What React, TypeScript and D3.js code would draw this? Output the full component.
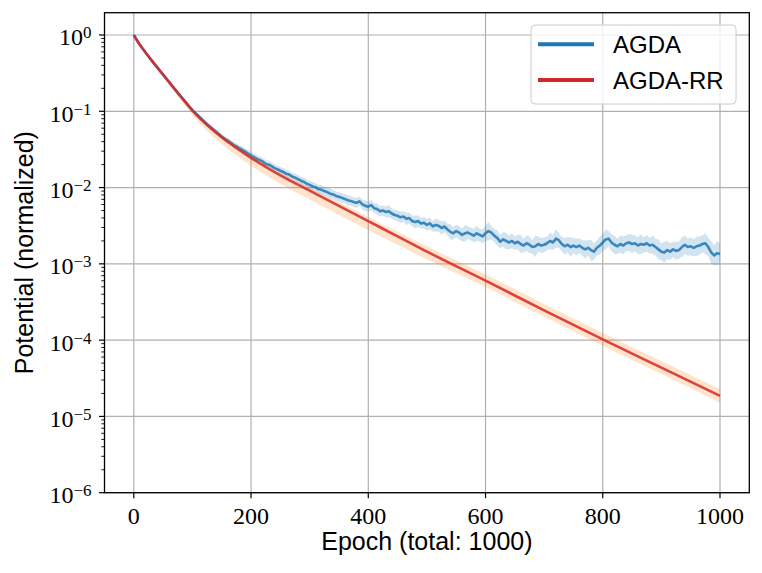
import React, { useEffect, useRef } from 'react';
import * as d3 from 'd3';

// series names and colours (legend order)
const seriesNames = ['AGDA', 'AGDA-RR'];
const seriesColors = ['#1f77b4', '#d62728'];
const bandColors = ['#1f77b4', '#ff7f0e'];

const xTicks = [0, 200, 400, 600, 800, 1000];
const yExponents = [0, -1, -2, -3, -4, -5, -6];

// AGDA-RR: log10 of normalized potential, smooth
const redEpochs = [0, 5, 10, 20, 30, 50, 75, 100, 125, 150, 175, 200, 250, 300, 350, 400, 450, 500, 600, 700, 800, 900, 1000];
const redLog = [0, -0.065, -0.125, -0.23, -0.33, -0.52, -0.76, -0.99, -1.18, -1.34, -1.48, -1.61, -1.84, -2.04, -2.24, -2.44, -2.64, -2.84, -3.22, -3.61, -3.99, -4.36, -4.73];
const redUp = [0, 0.002, 0.004, 0.006, 0.008, 0.01, 0.015, 0.02, 0.025, 0.03, 0.03, 0.035, 0.04, 0.045, 0.05, 0.055, 0.06, 0.07, 0.08, 0.085, 0.085, 0.085, 0.09];
const redDown = [0, 0.003, 0.006, 0.01, 0.015, 0.025, 0.04, 0.06, 0.075, 0.09, 0.1, 0.105, 0.11, 0.115, 0.115, 0.115, 0.11, 0.1, 0.085, 0.085, 0.085, 0.085, 0.09];

// AGDA: log10 of normalized potential, noisy after ~150 epochs
const blueEpochs = [0, 5, 10, 20, 30, 50, 75, 100, 125, ...d3.range(150, 1001, 5)];
const blueLog = [
  0, -0.065, -0.125, -0.23, -0.33, -0.52, -0.755, -0.985, -1.17,
  -1.33, -1.36, -1.385, -1.41, -1.44, -1.46, -1.485, -1.505, -1.53, -1.555,
  -1.58, -1.6, -1.625, -1.64, -1.66, -1.69, -1.7, -1.72, -1.745, -1.76,
  -1.78, -1.795, -1.82, -1.83, -1.855, -1.87, -1.89, -1.91, -1.925, -1.95,
  -1.965, -1.985, -1.995, -2.02, -2.03, -2.045, -2.06, -2.08, -2.09, -2.11,
  -2.12, -2.135, -2.15, -2.165, -2.175, -2.19, -2.2, -2.18, -2.22, -2.24,
  -2.25, -2.23, -2.27, -2.28, -2.31, -2.3, -2.32, -2.31, -2.34, -2.36,
  -2.37, -2.39, -2.38, -2.41, -2.4, -2.44, -2.45, -2.44, -2.47, -2.46,
  -2.49, -2.47, -2.51, -2.49, -2.5, -2.53, -2.51, -2.55, -2.58, -2.6,
  -2.57, -2.59, -2.62, -2.6, -2.59, -2.61, -2.63, -2.6, -2.62, -2.64,
  -2.6, -2.57, -2.59, -2.63, -2.66, -2.71, -2.68, -2.7, -2.72, -2.7,
  -2.73, -2.71, -2.74, -2.76, -2.73, -2.75, -2.78, -2.77, -2.74, -2.76,
  -2.75, -2.73, -2.7, -2.72, -2.67, -2.69, -2.74, -2.77, -2.75, -2.78,
  -2.76, -2.78, -2.76, -2.79, -2.81, -2.79, -2.82, -2.84, -2.79, -2.76,
  -2.72, -2.68, -2.67, -2.72, -2.75, -2.77, -2.74, -2.76, -2.73, -2.72,
  -2.74, -2.73, -2.76, -2.74, -2.75, -2.73, -2.76, -2.75, -2.78, -2.81,
  -2.84, -2.85, -2.82, -2.84, -2.81, -2.83, -2.82, -2.78, -2.75, -2.78,
  -2.77, -2.79, -2.77, -2.76, -2.74, -2.73, -2.78, -2.85, -2.89, -2.86,
  -2.87,
];
const blueSpread = [
  0, 0.002, 0.004, 0.006, 0.008, 0.012, 0.018, 0.025, 0.03,
  0.035, 0.035, 0.04, 0.038, 0.04, 0.042, 0.04, 0.045, 0.042, 0.045,
  0.045, 0.048, 0.045, 0.05, 0.047, 0.05, 0.048, 0.052, 0.05, 0.048,
  0.05, 0.052, 0.05, 0.055, 0.05, 0.053, 0.055, 0.05, 0.056, 0.052,
  0.055, 0.06, 0.055, 0.058, 0.062, 0.055, 0.06, 0.065, 0.058, 0.06,
  0.06, 0.065, 0.058, 0.07, 0.062, 0.06, 0.068, 0.062, 0.065, 0.07,
  0.065, 0.07, 0.062, 0.075, 0.068, 0.065, 0.072, 0.08, 0.068, 0.07,
  0.07, 0.075, 0.068, 0.08, 0.072, 0.07, 0.085, 0.075, 0.07, 0.078,
  0.075, 0.08, 0.07, 0.085, 0.078, 0.09, 0.075, 0.08, 0.1, 0.085,
  0.08, 0.09, 0.085, 0.11, 0.08, 0.085, 0.09, 0.1, 0.085, 0.09,
  0.1, 0.12, 0.09, 0.085, 0.1, 0.09, 0.095, 0.11, 0.09, 0.1,
  0.09, 0.095, 0.12, 0.09, 0.1, 0.11, 0.09, 0.14, 0.1, 0.095,
  0.1, 0.09, 0.11, 0.1, 0.12, 0.1, 0.095, 0.11, 0.1, 0.13,
  0.1, 0.11, 0.095, 0.1, 0.12, 0.1, 0.14, 0.11, 0.1, 0.12,
  0.11, 0.13, 0.1, 0.11, 0.12, 0.1, 0.11, 0.12, 0.1, 0.11,
  0.12, 0.1, 0.11, 0.13, 0.1, 0.11, 0.1, 0.12, 0.11, 0.13,
  0.11, 0.14, 0.12, 0.11, 0.1, 0.12, 0.11, 0.13, 0.12, 0.11,
  0.12, 0.11, 0.13, 0.12, 0.11, 0.14, 0.12, 0.15, 0.13, 0.16,
  0.14,
];

const App: React.FC = () => {
  const ref = useRef<SVGSVGElement | null>(null);

  useEffect(() => {
    if (!ref.current) return;
    const width = 762;
    const height = 573;
    const plot = { left: 104.5, right: 749.3, top: 12.7, bottom: 492.7 };
    const serif = "'Liberation Serif', 'Times New Roman', serif";
    const sans = "'Liberation Sans', Arial, sans-serif";

    const svg = d3.select(ref.current).attr('width', width).attr('height', height);
    svg.selectAll('*').remove();
    svg.append('rect').attr('width', width).attr('height', height).attr('fill', '#fff');

    const x = d3.scaleLinear().domain([-50, 1050]).range([plot.left, plot.right]);
    const y = d3.scaleLog().domain([1e-6, 1.96]).range([plot.bottom, plot.top]);

    const clipId = 'plot-clip';
    svg.append('clipPath').attr('id', clipId).append('rect')
      .attr('x', plot.left).attr('y', plot.top)
      .attr('width', plot.right - plot.left).attr('height', plot.bottom - plot.top);

    // grid
    const grid = svg.append('g').attr('stroke', '#b0b0b0').attr('stroke-width', 1.2);
    xTicks.forEach(t => {
      grid.append('line').attr('x1', x(t)).attr('x2', x(t)).attr('y1', plot.top).attr('y2', plot.bottom);
    });
    yExponents.forEach(e => {
      const yy = y(Math.pow(10, e));
      grid.append('line').attr('x1', plot.left).attr('x2', plot.right).attr('y1', yy).attr('y2', yy);
    });

    const body = svg.append('g').attr('clip-path', `url(#${clipId})`);
    const p10 = (v: number) => Math.pow(10, v);

    const series = [
      { epochs: blueEpochs, mean: blueLog, up: blueSpread, down: blueSpread, curve: d3.curveLinear },
      { epochs: redEpochs, mean: redLog, up: redUp, down: redDown, curve: d3.curveMonotoneX },
    ];

    series.forEach((s, k) => {
      const idx = d3.range(s.epochs.length);
      const area = d3.area<number>()
        .x(i => x(s.epochs[i]))
        .y0(i => y(p10(s.mean[i] - s.down[i])))
        .y1(i => y(p10(s.mean[i] + s.up[i])))
        .curve(s.curve);
      body.append('path').attr('d', area(idx)).attr('fill', bandColors[k]).attr('fill-opacity', k === 0 ? 0.2 : 0.22);

      const line = d3.line<number>()
        .x(i => x(s.epochs[i]))
        .y(i => y(p10(s.mean[i])))
        .curve(s.curve);
      body.append('path').attr('d', line(idx)).attr('fill', 'none')
        .attr('stroke', seriesColors[k]).attr('stroke-opacity', 0.85)
        .attr('stroke-width', 2.6).attr('stroke-linejoin', 'round');
    });

    // x axis ticks and labels
    const ax = svg.append('g');
    xTicks.forEach(t => {
      ax.append('line').attr('x1', x(t)).attr('x2', x(t)).attr('y1', plot.bottom).attr('y2', plot.bottom + 5.5)
        .attr('stroke', '#000').attr('stroke-width', 1.2);
      ax.append('text').attr('x', x(t)).attr('y', 523.5).attr('text-anchor', 'middle')
        .attr('font-family', serif).attr('font-size', 24).attr('fill', '#000').text(String(t));
    });

    // y axis: major and minor ticks with 10^n labels
    yExponents.forEach(e => {
      const yy = y(p10(e));
      ax.append('line').attr('x1', plot.left - 5.5).attr('x2', plot.left).attr('y1', yy).attr('y2', yy)
        .attr('stroke', '#000').attr('stroke-width', 1.2);
      const label = ax.append('text').attr('x', 91.5).attr('y', yy + 10.5).attr('text-anchor', 'end')
        .attr('font-family', serif).attr('fill', '#000');
      label.append('tspan').attr('font-size', 24).text('10');
      label.append('tspan').attr('font-size', 17).attr('dy', -7).text(e < 0 ? `\u2212${-e}` : String(e));
      if (e > -6) {
        d3.range(2, 10).forEach(m => {
          const ym = y((m * p10(e)) / 10);
          ax.append('line').attr('x1', plot.left - 3.2).attr('x2', plot.left).attr('y1', ym).attr('y2', ym)
            .attr('stroke', '#000').attr('stroke-width', 0.9);
        });
      }
    });
    // minor tick above 10^0
    const yTop = y(2);
    if (yTop >= plot.top) {
      ax.append('line').attr('x1', plot.left - 3.2).attr('x2', plot.left).attr('y1', yTop).attr('y2', yTop)
        .attr('stroke', '#000').attr('stroke-width', 0.9);
    }

    // frame
    svg.append('rect').attr('x', plot.left).attr('y', plot.top)
      .attr('width', plot.right - plot.left).attr('height', plot.bottom - plot.top)
      .attr('fill', 'none').attr('stroke', '#000').attr('stroke-width', 1.3);

    // axis titles
    svg.append('text').attr('x', (plot.left + plot.right) / 2).attr('y', 550).attr('text-anchor', 'middle')
      .attr('font-family', sans).attr('font-size', 25).attr('fill', '#000').text('Epoch (total: 1000)');
    svg.append('text').attr('transform', `translate(33,${(plot.top + plot.bottom) / 2}) rotate(-90)`)
      .attr('text-anchor', 'middle').attr('font-family', sans).attr('font-size', 25).attr('fill', '#000')
      .text('Potential (normalized)');

    // legend
    const lg = svg.append('g');
    lg.append('rect').attr('x', 531).attr('y', 25).attr('width', 205).attr('height', 79).attr('rx', 4)
      .attr('fill', '#fff').attr('fill-opacity', 0.8).attr('stroke', '#cccccc').attr('stroke-width', 1);
    seriesNames.forEach((name, i) => {
      const ly = 44.3 + i * 35.7;
      lg.append('line').attr('x1', 538).attr('x2', 594).attr('y1', ly).attr('y2', ly)
        .attr('stroke', seriesColors[i]).attr('stroke-width', 4);
      lg.append('text').attr('x', 613).attr('y', ly + 8.8).attr('font-family', sans).attr('font-size', 24)
        .attr('fill', '#000').text(name);
    });
  }, []);

  return <svg ref={ref} style={{ position: 'absolute', left: 0, top: 0 }}></svg>;
};

export default App;
